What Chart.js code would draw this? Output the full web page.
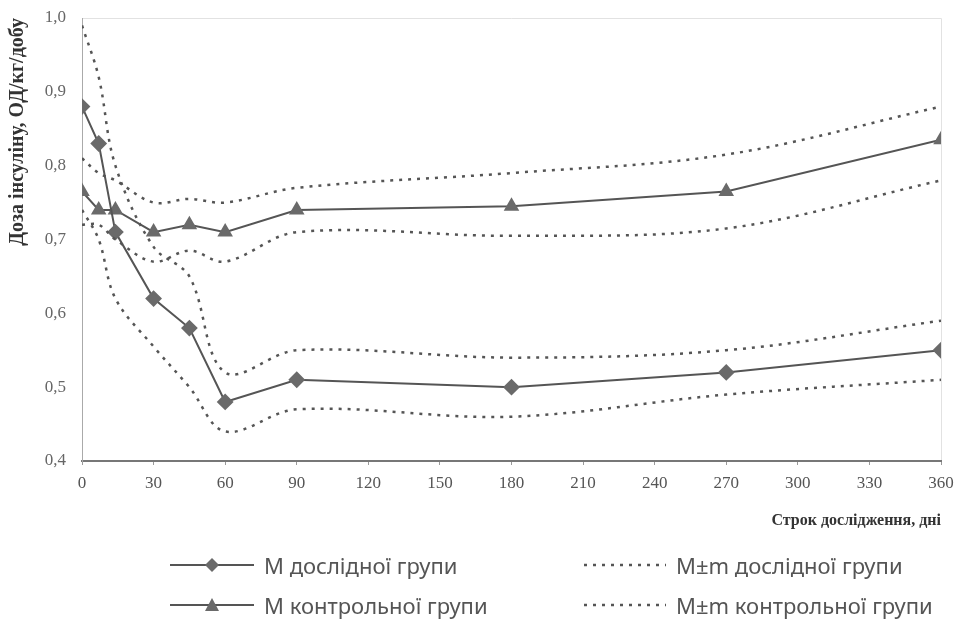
<!DOCTYPE html>
<html>
<head>
<meta charset="utf-8">
<script src="https://cdn.jsdelivr.net/npm/chart.js@4"></script>
<style>
  body { margin: 0; background: #fff; }
  #wrap { position: relative; width: 963px; height: 624px; }
  #legend { position: absolute; left: 0; top: 0; width: 963px; height: 624px; pointer-events: none;
            font-family: 'Noto Sans', 'DejaVu Sans', sans-serif; font-size: 22px; color: #555; }
  .item { position: absolute; display: flex; align-items: center; white-space: nowrap; height: 30px; }
  .item svg { margin-right: 10px; }
</style>
</head>
<body>
<div id="wrap">
  <canvas id="myChart" width="963" height="624"></canvas>
  <div id="legend"></div>
</div>
<script>
// Days of observation
const days = [0, 7, 14, 30, 45, 60, 90, 180, 270, 360];

// Experimental group (M and M±m)
const expMean  = [0.88, 0.83, 0.71, 0.62, 0.58, 0.48, 0.51, 0.50, 0.52, 0.55];
const expUpper = [0.99, 0.92, 0.80, 0.69, 0.65, 0.52, 0.55, 0.54, 0.55, 0.59];
const expLower = [0.74, 0.70, 0.62, 0.555, 0.50, 0.44, 0.47, 0.46, 0.49, 0.51];

// Control group (M and M±m)
const ctrlMean  = [0.765, 0.74, 0.74, 0.71, 0.72, 0.71, 0.74, 0.745, 0.765, 0.835];
const ctrlUpper = [0.81, 0.79, 0.78, 0.75, 0.755, 0.75, 0.77, 0.79, 0.815, 0.88];
const ctrlLower = [0.72, 0.72, 0.70, 0.67, 0.685, 0.67, 0.71, 0.705, 0.715, 0.78];

const xTicks = [0, 30, 60, 90, 120, 150, 180, 210, 240, 270, 300, 330, 360];
const yTicks = [0.4, 0.5, 0.6, 0.7, 0.8, 0.9, 1.0];

const legendLabels = ['М дослідної групи', 'М±m дослідної групи', 'М контрольної групи', 'М±m контрольної групи'];

const lineColor = '#555';
const markColor = '#6a6a6a';

function toPoints(ys) {
    return days.map((d, i) => ({ x: d, y: ys[i] }));
}

function meanSet(label, ys, style) {
    return {
        label: label,
        data: toPoints(ys),
        borderColor: lineColor,
        borderWidth: 2,
        backgroundColor: markColor,
        pointStyle: style,
        pointRadius: 7,
        pointBorderColor: markColor,
        pointBackgroundColor: markColor,
        tension: 0
    };
}

function boundSet(label, ys) {
    return {
        label: label,
        data: toPoints(ys),
        borderColor: lineColor,
        borderWidth: 2.5,
        borderDash: [3, 6],
        pointRadius: 0,
        tension: 0.35,
        fill: false
    };
}

// light frame round the plot area
const frame = {
    id: 'frame',
    beforeDraw(chart) {
        const a = chart.chartArea, c = chart.ctx;
        c.save();
        c.strokeStyle = '#e2e2e2';
        c.lineWidth = 1;
        c.beginPath();
        c.moveTo(a.left, a.top + 0.5);
        c.lineTo(a.right + 0.5, a.top + 0.5);
        c.lineTo(a.right + 0.5, a.bottom);
        c.stroke();
        c.restore();
    }
};

const serif = "'Liberation Serif', 'DejaVu Serif', serif";

new Chart(document.getElementById('myChart'), {
    type: 'line',
    data: {
        datasets: [
            boundSet('exp upper', expUpper),
            boundSet('exp lower', expLower),
            boundSet('ctrl upper', ctrlUpper),
            boundSet('ctrl lower', ctrlLower),
            meanSet(legendLabels[0], expMean, 'rectRot'),
            meanSet(legendLabels[2], ctrlMean, 'triangle')
        ]
    },
    options: {
        responsive: false,
        animation: false,
        layout: { autoPadding: false, padding: { top: 18, right: 22, bottom: 93, left: 0 } },
        plugins: {
            legend: { display: false },
            tooltip: { enabled: false }
        },
        scales: {
            x: {
                type: 'linear',
                min: 0,
                max: 360,
                afterBuildTicks: axis => { axis.ticks = xTicks.map(v => ({ value: v })); },
                afterFit: axis => { axis.height = 70; },
                grid: { drawOnChartArea: false, tickLength: 4, color: '#999' },
                border: { color: '#777', width: 2 },
                ticks: { color: '#555', font: { family: serif, size: 17 }, padding: 8 },
                title: {
                    display: true,
                    text: 'Строк дослідження, дні',
                    align: 'end',
                    color: '#333',
                    font: { family: serif, size: 16, weight: 'bold' },
                    padding: { top: 4, bottom: 1 }
                }
            },
            y: {
                min: 0.4,
                max: 1.0,
                afterBuildTicks: axis => { axis.ticks = yTicks.map(v => ({ value: v })); },
                afterFit: axis => { axis.width = 82; axis.paddingTop = 0; axis.paddingBottom = 0; },
                grid: { drawOnChartArea: false, drawTicks: false },
                border: { color: '#aaa', width: 1 },
                ticks: {
                    color: '#666',
                    font: { family: serif, size: 17 },
                    padding: 16,
                    callback: v => v.toFixed(1).replace('.', ',')
                },
                title: {
                    display: true,
                    text: 'Доза інсуліну, ОД/кг/добу',
                    align: 'end',
                    color: '#333',
                    font: { family: serif, size: 20, weight: 'bold' },
                    padding: { top: 6, bottom: 4 }
                }
            }
        }
    },
    plugins: [frame]
});

// legend in two columns, built from the labels
function sample(dashed, marker) {
    let s = '<svg width="84" height="18">';
    if (dashed) {
        s += '<line x1="2" y1="9" x2="84" y2="9" stroke="#555" stroke-width="2.5" stroke-dasharray="3,6"/>';
    } else {
        s += '<line x1="0" y1="9" x2="84" y2="9" stroke="#555" stroke-width="2"/>';
        if (marker === 'diamond') s += '<polygon points="42,2 49,9 42,16 35,9" fill="#6a6a6a"/>';
        else s += '<polygon points="42,2 49,15 35,15" fill="#6a6a6a"/>';
    }
    return s + '</svg>';
}
const legendPos = [[170, 550], [582, 550], [170, 590], [582, 590]];
const legendEl = document.getElementById('legend');
legendLabels.forEach((t, i) => {
    const d = document.createElement('div');
    d.className = 'item';
    d.style.left = legendPos[i][0] + 'px';
    d.style.top = legendPos[i][1] + 'px';
    d.innerHTML = sample(i % 2 === 1, i === 0 ? 'diamond' : 'triangle') + '<span>' + t + '</span>';
    legendEl.appendChild(d);
});
</script>
</body>
</html>
